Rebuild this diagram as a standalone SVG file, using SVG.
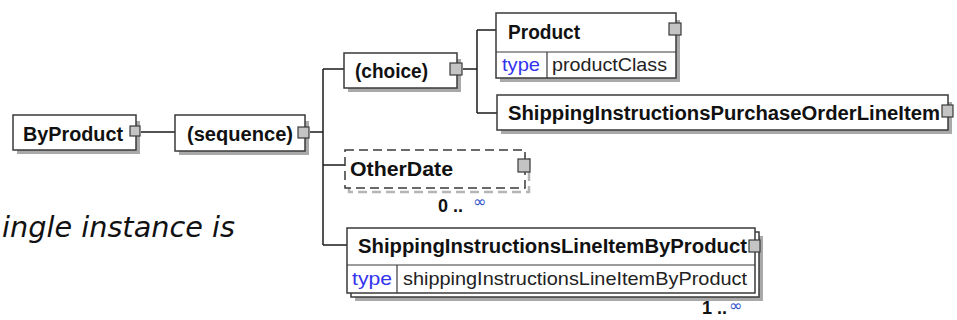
<svg xmlns="http://www.w3.org/2000/svg" width="957" height="320" viewBox="0 0 957 320">
<style>
.box{fill:#ffffff;stroke:#3a3a3a;stroke-width:1.5}
.shadow{fill:#a9a9a9;stroke:none}
.dash{fill:#ffffff;stroke:#3a3a3a;stroke-width:1.5;stroke-dasharray:9 5}
.port{fill:#c4c4c4;stroke:#3a3a3a;stroke-width:1.2}
.conn{fill:none;stroke:#1a1a1a;stroke-width:1.5}
.lbl{font-family:"Liberation Sans",Arial,sans-serif;font-weight:bold;font-size:20px;fill:#111111}
.reg{font-family:"Liberation Sans",Arial,sans-serif;font-size:19px;fill:#222222}
.kw{font-family:"Liberation Sans",Arial,sans-serif;font-size:19px;fill:#3333ee}
.occ{font-family:"Liberation Sans",Arial,sans-serif;font-weight:bold;font-size:18px;fill:#111111}
.inf{font-family:"DejaVu Sans",sans-serif;font-size:16px;fill:#3355cc}
.div{stroke:#3a3a3a;stroke-width:1.2}
</style>
<rect x="0" y="0" width="957" height="320" fill="#ffffff"/>
<text x="2" y="237" font-family="DejaVu Sans,Verdana,sans-serif" font-style="italic" font-size="28" textLength="233" lengthAdjust="spacingAndGlyphs" fill="#111111">ingle instance is</text>

<g id="connectors">
<path class="conn" d="M141 132 H175"/>
<path class="conn" d="M310 132 H323"/>
<path class="conn" d="M323 69 V245"/>
<path class="conn" d="M323 69 H344"/>
<path class="conn" d="M323 165 H345"/>
<path class="conn" d="M323 245 H347"/>
<path class="conn" d="M463 69 H477"/>
<path class="conn" d="M477 30 V113"/>
<path class="conn" d="M477 30 H496"/>
<path class="conn" d="M477 113 H497"/>
</g>

<g id="ByProduct">
<rect class="shadow" x="17" y="121" width="123" height="33"/>
<rect class="box" x="13" y="115" width="123" height="35"/>
<text class="lbl" x="23" y="141" textLength="100" lengthAdjust="spacingAndGlyphs">ByProduct</text>
<rect class="port" x="130" y="126" width="10" height="10"/>
</g>

<g id="sequence">
<rect class="shadow" x="179" y="121" width="130" height="34"/>
<rect class="box" x="175" y="115" width="130" height="36"/>
<text class="lbl" x="187" y="141" textLength="106" lengthAdjust="spacingAndGlyphs">(sequence)</text>
<rect class="port" x="298" y="127" width="11" height="11"/>
</g>

<g id="choice">
<rect class="shadow" x="348" y="59" width="113" height="33"/>
<rect class="box" x="344" y="53" width="113" height="35"/>
<text class="lbl" x="355" y="78" textLength="73" lengthAdjust="spacingAndGlyphs">(choice)</text>
<rect class="port" x="450" y="63" width="12" height="12"/>
</g>

<g id="Product">
<rect class="shadow" x="500" y="20" width="180" height="62"/>
<rect class="box" x="496" y="13" width="180" height="65"/>
<line class="div" x1="496" y1="52" x2="676" y2="52"/>
<line class="div" x1="547" y1="52" x2="547" y2="78"/>
<text class="lbl" x="508" y="39" textLength="72" lengthAdjust="spacingAndGlyphs">Product</text>
<text class="kw" x="502" y="71" textLength="38" lengthAdjust="spacingAndGlyphs">type</text>
<text class="reg" x="552" y="71" textLength="115" lengthAdjust="spacingAndGlyphs">productClass</text>
<rect class="port" x="669" y="23" width="12" height="12"/>
</g>

<g id="ShippingInstructionsPurchaseOrderLineItem">
<rect class="shadow" x="501" y="102" width="451" height="32"/>
<rect class="box" x="497" y="95" width="451" height="35"/>
<text class="lbl" x="508" y="120" textLength="432" lengthAdjust="spacingAndGlyphs">ShippingInstructionsPurchaseOrderLineItem</text>
<rect class="port" x="942" y="105" width="11" height="12"/>
</g>

<g id="OtherDate">
<rect x="349" y="156" width="180" height="36" fill="none" stroke="#b5b5b5" stroke-width="2.5" stroke-dasharray="9 5"/>
<rect class="dash" x="345" y="150" width="180" height="38"/>
<text class="lbl" x="350" y="176" textLength="103" lengthAdjust="spacingAndGlyphs">OtherDate</text>
<rect class="port" x="518" y="159" width="12" height="13"/>
<text class="occ" x="438" y="212">0 ..</text>
<text class="inf" x="473" y="207">∞</text>
</g>

<g id="ShippingInstructionsLineItemByProduct">
<rect class="shadow" x="355" y="236" width="408" height="65"/>
<rect class="box" x="351" y="232" width="408" height="65"/>
<rect class="box" x="347" y="228" width="408" height="65"/>
<line class="div" x1="347" y1="265" x2="755" y2="265"/>
<line class="div" x1="397" y1="265" x2="397" y2="293"/>
<text class="lbl" x="358" y="253" textLength="389" lengthAdjust="spacingAndGlyphs">ShippingInstructionsLineItemByProduct</text>
<text class="kw" x="352" y="285" textLength="40" lengthAdjust="spacingAndGlyphs">type</text>
<text class="reg" x="403" y="285" textLength="344" lengthAdjust="spacingAndGlyphs">shippingInstructionsLineItemByProduct</text>
<rect class="port" x="749" y="240" width="11" height="12"/>
<text class="occ" x="702" y="314" font-size="16">1 ..</text>
<text class="inf" x="729" y="311">∞</text>
</g>
</svg>
